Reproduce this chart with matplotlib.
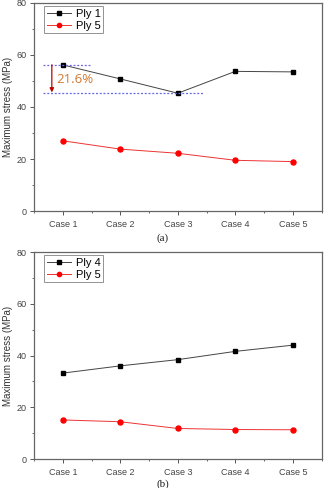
import matplotlib
matplotlib.use("Agg")
import matplotlib.pyplot as plt
from matplotlib.ticker import MultipleLocator

cases = ["Case 1", "Case 2", "Case 3", "Case 4", "Case 5"]
x = [1, 2, 3, 4, 5]

# panel (a)
ply1_a = [56.2, 50.8, 45.3, 53.7, 53.5]
ply5_a = [27.0, 23.8, 22.2, 19.5, 19.0]
# panel (b)
ply4_b = [33.2, 36.0, 38.4, 41.6, 44.0]
ply5_b = [15.1, 14.4, 11.8, 11.4, 11.3]

drop_label = "21.6%"

plt.rcParams['font.family'] = ['Liberation Sans', 'DejaVu Sans']

fig = plt.figure(figsize=(3.25, 4.88), dpi=100)
ax_a = fig.add_axes([0.1046, 0.5676, 0.885, 0.4263])
ax_b = fig.add_axes([0.1046, 0.0594, 0.885, 0.4242])


def style(ax, s1, s2, l1, l2):
    ax.plot(x, s1, color='#444444', lw=0.7, marker='s', ms=3.4,
            mfc='black', mec='black', label=l1)
    ax.plot(x, s2, color='#ee3333', lw=0.7, marker='o', ms=3.6,
            mfc='red', mec='red', label=l2)
    ax.set_xlim(0.5, 5.5)
    ax.set_ylim(0, 80)
    ax.set_xticks(x)
    ax.set_xticklabels(cases, fontsize=6.5)
    ax.yaxis.set_major_locator(MultipleLocator(20))
    ax.yaxis.set_minor_locator(MultipleLocator(10))
    ax.xaxis.set_minor_locator(MultipleLocator(0.5))
    ax.tick_params(axis='y', labelsize=6.5, colors='#555555', length=3, width=0.7, pad=2)
    ax.tick_params(axis='x', length=3, width=0.7, colors='#555555')
    ax.tick_params(which='minor', length=1.6, width=0.6, colors='#555555')
    for lab in ax.get_xticklabels() + ax.get_yticklabels():
        lab.set_color('#444444')
    for sp in ax.spines.values():
        sp.set_color('#666666')
        sp.set_linewidth(0.9)
    ax.set_ylabel("Maximum stress (MPa)", fontsize=7, color='#333333')
    ax.yaxis.set_label_coords(-0.072, 0.5)
    leg = ax.legend(loc='upper left', bbox_to_anchor=(0.035, 0.985), fontsize=8,
                    frameon=True, fancybox=False, handlelength=2.2,
                    borderpad=0.25, labelspacing=0.15, handletextpad=0.4,
                    borderaxespad=0, markerscale=0.85)
    leg.get_frame().set_edgecolor('#777777')
    leg.get_frame().set_linewidth(0.7)


style(ax_a, ply1_a, ply5_a, "Ply 1", "Ply 5")
style(ax_b, ply4_b, ply5_b, "Ply 4", "Ply 5")

# annotation for the drop from Case 1 to Case 3
ax_a.plot([0.65, 1.47], [ply1_a[0], ply1_a[0]], ls=(0, (1.6, 1.4)), color='#6a6ae8', lw=0.9)
ax_a.plot([0.65, 3.46], [ply1_a[2], ply1_a[2]], ls=(0, (1.6, 1.4)), color='#6a6ae8', lw=0.9)
ax_a.annotate("", xy=(0.81, ply1_a[2] + 0.3), xytext=(0.81, ply1_a[0]),
              arrowprops=dict(arrowstyle='-|>', color='#c00000', lw=0.9,
                              mutation_scale=6, shrinkA=0, shrinkB=0))
ax_a.text(0.88, 50.5, drop_label, fontsize=9.5, color='#d0782f',
          family=['Open Sans', 'DejaVu Sans'], va='center', ha='left')

fig.text(0.5, 0.512, "(a)", ha='center', va='center', fontsize=8,
         family=['Liberation Serif'], color='#222222')
fig.text(0.5, 0.008, "(b)", ha='center', va='center', fontsize=8,
         family=['Liberation Serif'], color='#222222')

fig.savefig("out.png", dpi=100)
